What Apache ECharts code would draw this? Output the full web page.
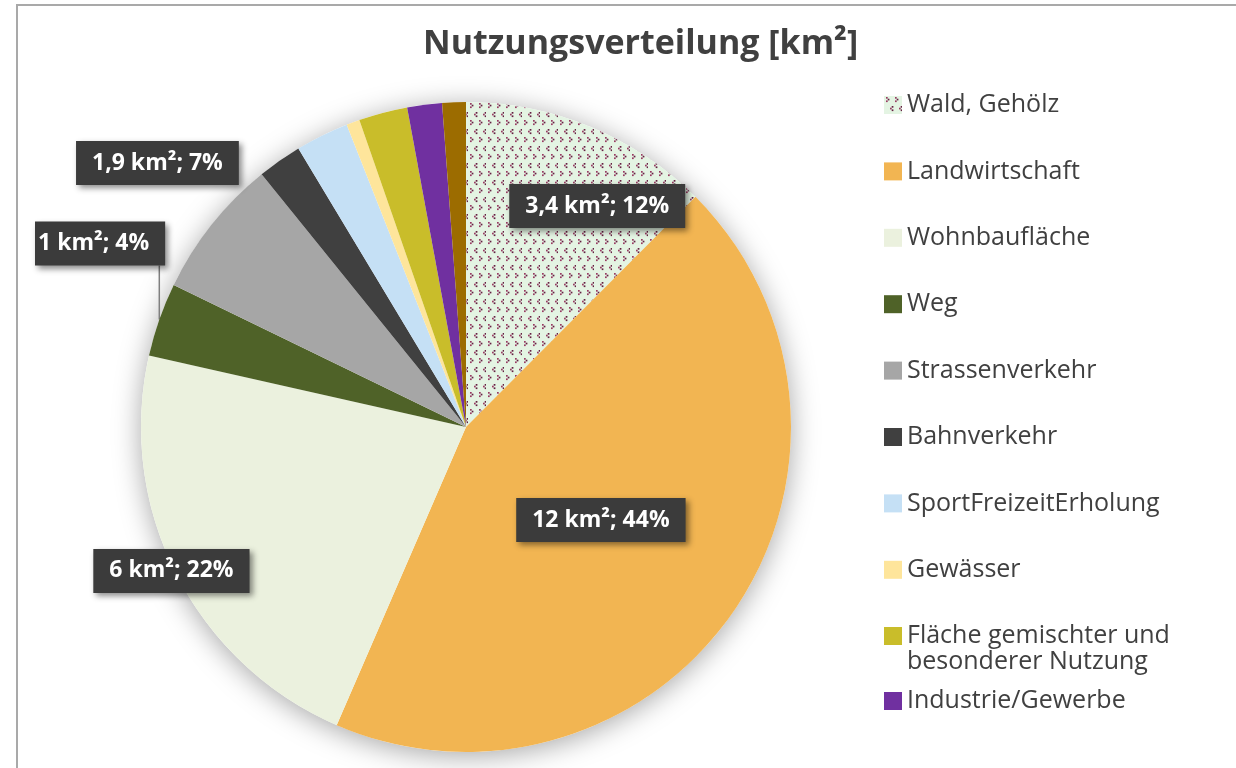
<!DOCTYPE html>
<html>
<head>
<meta charset="utf-8">
<title>Nutzungsverteilung</title>
<script src="https://cdn.jsdelivr.net/npm/echarts@6/dist/echarts.min.js"></script>
<style>
  html, body { margin: 0; padding: 0; background: #fff; }
  #myChart { width: 1236px; height: 768px; }
</style>
</head>
<body>
<div id="myChart"></div>
<script>
// Flächen in km², im Uhrzeigersinn ab 12 Uhr
const names = [
  "Wald, Gehölz",
  "Landwirtschaft",
  "Wohnbaufläche",
  "Weg",
  "Strassenverkehr",
  "Bahnverkehr",
  "SportFreizeitErholung",
  "Gewässer",
  "Fläche gemischter und\nbesonderer Nutzung",
  "Industrie/Gewerbe",
  "Sonstige",
];
const values = [3.4, 12, 6, 1, 1.9, 0.6, 0.72, 0.18, 0.66, 0.47, 0.32];
const labelled = [true, true, true, true, true, false, false, false, false, false, false];

// gepunktetes Muster für Wald
const makePattern = () => {
  const c = document.createElement("canvas");
  c.width = 18;
  c.height = 17;
  const ctx = c.getContext("2d");
  ctx.fillStyle = "#e4f4e3";
  ctx.fillRect(0, 0, 18, 17);
  const dot = (x, y, col) => {
    ctx.fillStyle = col;
    ctx.fillRect(x, y, 1.7, 1.7);
  };
  const right = (x, y) => {
    dot(x, y, "#983a62");
    dot(x + 1.7, y + 1.7, "#642042");
    dot(x, y + 3.4, "#983a62");
  };
  const left = (x, y) => {
    dot(x + 1.7, y, "#642042");
    dot(x, y + 1.7, "#983a62");
    dot(x + 1.7, y + 3.4, "#642042");
  };
  right(2, 1);
  right(11, 1);
  left(6, 10);
  left(15, 10);
  return { image: c, repeat: "repeat" };
};

const colors = [
  makePattern(),
  "#f2b552",
  "#ebf1de",
  "#4f6228",
  "#a6a6a6",
  "#404040",
  "#c5e0f5",
  "#fee59b",
  "#c9bd2a",
  "#7030a0",
  "#9c6c00",
];

// Verschiebung der Beschriftungen (wie Excel "beste Anpassung")
const labelShift = {
  0: [68, -68],
  1: [-2, 0],
  2: [-147, 69],
  3: [25, -71],
  4: [-179, -161],
};

window.onload = () => {
  const myChart = echarts.init(document.getElementById("myChart"));

  const data = names.map((name, i) => ({
    name,
    value: values[i],
    itemStyle: { color: colors[i] },
    label: {
      show: labelled[i],
      position: i === 3 ? "outside" : "inside",
    },
    labelLine: { show: i === 3 },
  }));

  const legendText = {
    fontFamily: "Open Sans",
    fontSize: 25,
    lineHeight: 26,
    color: "#404040",
  };
  const legendBase = {
    orient: "vertical",
    left: 884,
    padding: 0,
    itemWidth: 18,
    itemHeight: 18,
    icon: "rect",
    selectedMode: false,
    textStyle: legendText,
  };

  myChart.setOption({
    animation: false,
    title: {
      text: "Nutzungsverteilung [km²]",
      left: 418,
      top: 22,
      textStyle: {
        fontFamily: "Open Sans",
        fontSize: 34,
        fontWeight: "bold",
        color: "#404040",
      },
    },
    legend: [
      Object.assign({}, legendBase, {
        top: 92,
        itemGap: 40.4,
        data: names.slice(0, 8),
      }),
      Object.assign({}, legendBase, {
        top: 597,
        // Leerzeile oben, damit das Symbol auf der ersten Textzeile steht
        formatter: (n) => "\n" + n,
        data: [names[8]],
      }),
      Object.assign({}, legendBase, {
        top: 688,
        data: [names[9]],
      }),
    ],
    graphic: [
      {
        type: "rect",
        shape: { x: 17, y: 5, width: 1400, height: 900 },
        style: { fill: "none", stroke: "#a9a9a9", lineWidth: 2 },
        silent: true,
      },
    ],
    series: [
      {
        // Schatten hinter dem Kreis
        type: "pie",
        center: [466, 427],
        radius: 325,
        silent: true,
        z: 1,
        label: { show: false },
        labelLine: { show: false },
        itemStyle: {
          color: "#fff",
          shadowBlur: 28,
          shadowOffsetY: 4,
          shadowColor: "rgba(0,0,0,0.35)",
        },
        data: [{ name: "", value: 1 }],
      },
      {
        type: "pie",
        name: "Nutzung",
        center: [466, 427],
        radius: 325,
        startAngle: 90,
        z: 2,
        data,
        label: {
          fontFamily: "Open Sans",
          fontSize: 23,
          fontWeight: "bold",
          color: "#fff",
          backgroundColor: "#3b3b3b",
          padding: [11, 16, 10, 16],
          overflow: "none",
          shadowBlur: 6,
          shadowOffsetX: 3,
          shadowOffsetY: 3,
          shadowColor: "rgba(0,0,0,0.45)",
          formatter: (p) =>
            String(p.value).replace(".", ",") + " km²; " + Math.round(p.percent) + "%",
        },
        labelLine: {
          length: 15,
          length2: 0,
          lineStyle: { color: "#7f7f7f", width: 1.5 },
        },
        labelLayout: (params) => {
          const s = labelShift[params.dataIndex];
          if (!s) return {};
          const out = { dx: s[0], dy: s[1] };
          const pts = params.labelLinePoints;
          if (pts && pts.length) {
            // senkrechte Führungslinie vom Kreisrand zur Unterkante der Beschriftung
            const start = pts[0];
            const bottom = params.labelRect.y + params.labelRect.height + s[1];
            out.labelLinePoints = [start, [start[0], bottom], [start[0], bottom]];
          }
          return out;
        },
      },
    ],
  });
};
</script>
</body>
</html>
